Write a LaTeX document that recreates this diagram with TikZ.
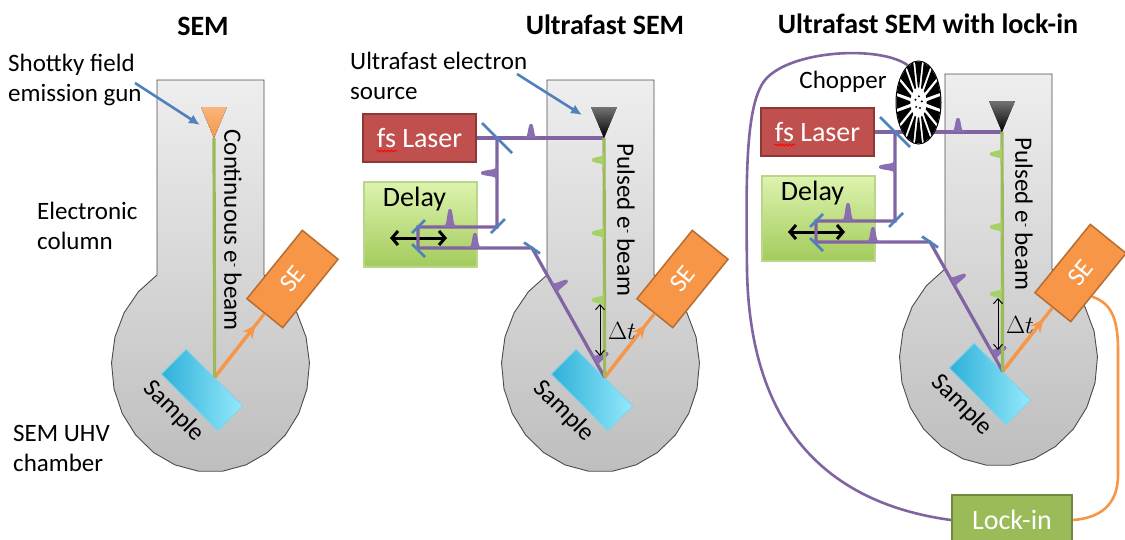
\documentclass[tikz,border=0pt]{standalone}
\usepackage{fontspec}
\setmainfont{Carlito}
\usetikzlibrary{arrows.meta,calc,shapes.geometric,decorations.pathmorphing}

\definecolor{laserpurple}{HTML}{8064A2}
\definecolor{pulsepurple}{HTML}{8A6EAF}
\definecolor{officeblue}{HTML}{4F81BD}
\definecolor{laserred}{HTML}{C0504D}
\definecolor{laserredline}{HTML}{8C3836}
\definecolor{seorange}{HTML}{F79646}
\definecolor{seorangeline}{HTML}{B66D31}
\definecolor{beamgreen}{HTML}{9BBB59}
\definecolor{pulsegreen}{HTML}{A5D168}
\definecolor{lockgreen}{HTML}{9BBB59}
\definecolor{lockgreenline}{HTML}{71893F}
\definecolor{chambertop}{HTML}{EEEEEE}
\definecolor{chamberbot}{HTML}{BEBEBE}
\definecolor{delaytop}{HTML}{DDF3AE}
\definecolor{delaybot}{HTML}{A3CB5C}
\definecolor{delayline}{HTML}{B9D68A}
\definecolor{sampledark}{HTML}{2DB0D8}
\definecolor{samplelight}{HTML}{95E9FC}
\definecolor{sampleline}{HTML}{7FD3EA}

\newcommand\eminus{e\raisebox{0.55ex}{\fontsize{13}{13}\selectfont -}}

\tikzset{
  lbl/.style={font=\fontsize{25}{30}\selectfont, align=left, anchor=west, inner sep=0pt},
  ttl/.style={font=\bfseries\fontsize{28}{34}\selectfont, inner sep=0pt},
  beamtext/.style={font=\fontsize{25}{30}\selectfont, rotate=-90, inner sep=0pt},
  sampletext/.style={font=\fontsize{25}{30}\selectfont, rotate=-45, inner sep=0pt},
  boxtext/.style={font=\fontsize{28}{34}\selectfont, inner sep=0pt},
  chamberfill/.style={draw=black!70, line width=0.9pt, top color=chambertop, bottom color=chamberbot},
  pointer/.style={draw=officeblue, line width=2.6pt, -{Latex[length=11pt,width=10pt]}},
  laser/.style={draw=laserpurple, line width=3.2pt},
  mirror/.style={draw=officeblue, line width=2.8pt},
  ebeam/.style={draw=beamgreen, line width=3.2pt},
  searrow/.style={draw=seorange, line width=3.2pt},
  sebox/.style={fill=seorange, draw=seorangeline, line width=1.5pt, minimum width=88pt,
    minimum height=46pt, rotate=51, text=white, font=\fontsize{26}{30}\selectfont, inner sep=0pt},
  samplebox/.style={left color=sampledark, right color=samplelight, draw=sampleline,
    line width=0.8pt, minimum width=80pt, minimum height=35pt, rotate=-45, inner sep=0pt},
  laserbox/.style={fill=laserred, draw=laserredline, line width=1.5pt, minimum width=113pt,
    minimum height=48pt, text=white, boxtext},
  delaybox/.style={top color=delaytop, bottom color=delaybot, draw=delayline, line width=1.2pt,
    minimum width=113pt, minimum height=85pt},
  lockbox/.style={fill=lockgreen, draw=lockgreenline, line width=2pt, minimum width=120pt,
    minimum height=50pt, text=white, boxtext},
  slide/.style={draw=black, line width=3pt,
    {Straight Barb[length=6pt,width=14pt]}-{Straight Barb[length=6pt,width=14pt]}},
  dtarrow/.style={draw=black, line width=1pt,
    {Straight Barb[length=5pt,width=9pt]}-{Straight Barb[length=5pt,width=9pt]}},
  squiggle/.style={draw=red, line width=0.8pt, decorate,
    decoration={snake, amplitude=1pt, segment length=3.5pt}},
  wire/.style={line width=2.6pt},
  % a light pulse: rounded finger with a soft flared base
  pics/pulse/.style 2 args={code={%
    \fill[#1] plot[domain=-12:12, samples=61, smooth]
      (\x, {-(#2)*(0.75*exp(-((\x*\x/10)*(\x*\x/10))) + 0.25*exp(-(\x*\x)/30))}) -- cycle;
  }},
}

% vacuum column with its round chamber, in column-local coordinates
\newcommand\semchamber{%
  \path[chamberfill] (0,0) -- (107,0)
    -- plot[domain=-57.3:237.3, samples=22] ({53.5+99*cos(\x)},{285+107*sin(\x)}) -- cycle;}

% sample, SE detector and the secondary-electron arrow
\newcommand\samplestage[1]{%
  \node[samplebox] (#1smp) at (45,310) {};
  \node[sampletext] at (17,331) {Sample};
  \node[sebox] (#1se) at (135.5,199) {SE};
  \coordinate (#1s) at (#1smp.north);
  \draw[searrow] (#1s) -- (#1se.west);
  \draw[searrow, -{Stealth[length=13pt,width=12pt]}] (#1s) -- ($(#1s)!0.82!(#1se.west)$);
}

% pump-probe set-up: laser, delay line, pulsed column
\newcommand\ufpanel[2]{%
  \semchamber
  \samplestage{#1}
  \node[laserbox] (#1las) at (-127.5,58) {fs Laser};
  \draw[squiggle] ($(#1las.center)+(-43,13)$) -- ($(#1las.center)+(-22,13)$);
  \node[delaybox] (#1dly) at (-126.5,144.5) {};
  \node[boxtext] at ($(#1dly.north)+(-6,18)$) {Delay};
  \draw[slide] ($(#1dly.center)+(-30.5,13.5)$) -- ($(#1dly.center)+(26.5,13.5)$);
  \coordinate (#1tip) at (57,58);
  \coordinate (#1bs) at (-50,58);
  \coordinate (#1m1) at (-50,147);
  \coordinate (#1r1) at (-129,147);
  \coordinate (#1r2) at (-129,168);
  \coordinate (#1t2) at (-15,168);
  \draw[laser] (#1las.east) -- (#1tip);
  \draw[laser] (#1bs) -- (#1m1) -- (#1r1) -- (#1r2) -- (#1t2) -- (#1s);
  \draw[mirror] ($(#1bs)+(-15,-15)$) -- ($(#1bs)+(15,15)$);
  \draw[mirror] ($(#1m1)+(8,-8)$) -- ($(#1m1)+(-6,6)$);
  \draw[mirror] ($(#1r1)+(7,-7)$) -- ($(#1r1)+(-6,6)$);
  \draw[mirror] ($(#1r2)+(-6,-4)$) -- ($(#1r2)+(7,9)$);
  \draw[mirror] ($(#1t2)+(-8,-5.5)$) -- ($(#1t2)+(8,5.5)$);
  \pic at (#2,58) {pulse={pulsepurple}{14}};
  \pic[rotate=90] at (-50,93) {pulse={pulsepurple}{16}};
  \pic at (-97,147) {pulse={pulsepurple}{18}};
  \pic at (-72,168) {pulse={pulsepurple}{15}};
  \pic[rotate=-60] at ($(#1t2)!0.31!(#1s)$) {pulse={pulsepurple}{15}};
  \pic[rotate=-60] at ($(#1t2)!0.87!(#1s)$) {pulse={pulsepurple}{15}};
  \draw[ebeam] (#1tip) -- (#1s);
  \pic[rotate=90] at (57,80) {pulse={pulsegreen}{12}};
  \pic[rotate=90] at (57,153) {pulse={pulsegreen}{12}};
  \pic[rotate=90] at (57,220) {pulse={pulsegreen}{12}};
  \fill[top color=black!55, bottom color=black] (44,27) -- (70,27) -- (#1tip) -- cycle;
  \coordinate (#1dta) at (53,224);
  \coordinate (#1dtb) at (53,276);
  \draw[dtarrow] (#1dta) -- (#1dtb);
  \node[font=\fontsize{27}{30}\selectfont, inner sep=0pt] at (75,251) {$\Delta t$};
  \node[beamtext] at (79,140) {Pulsed \eminus{} beam};
}

\begin{document}
\begin{tikzpicture}[x=1pt, y=-1pt]
\useasboundingbox (0,0) rectangle (1125,539);
\clip (0,0) rectangle (1125,539);
\fill[white] (0,0) rectangle (1125,539);

% ---------- conventional SEM ----------
\begin{scope}[shift={(157,80)}]
  \semchamber
  \samplestage{a}
  \coordinate (atip) at (57,58);
  \draw[ebeam] (atip) -- (as);
  \fill[top color=seorange!70, bottom color=seorange] (44,27) -- (70,27) -- (atip) -- cycle;
  \node[beamtext] at (76,150) {Continuous \eminus{} beam};
  \node[ttl] at (46,-54) {SEM};
  \node[lbl] (agunlbl) at (-149,0) {Shottky field\\emission gun};
  \coordinate (agunarr) at (43,45);
  \draw[pointer] (-22,3) -- (agunarr);
  \node[lbl] at (-120,146) {Electronic\\column};
  \node[lbl] at (-144,368) {SEM UHV\\chamber};
\end{scope}

% ---------- ultrafast SEM ----------
\begin{scope}[shift={(547,80)}]
  \ufpanel{b}{-16}
  \node[ttl] at (58,-55) {Ultrafast SEM};
  \node[lbl] (bsrclbl) at (-197,-4) {Ultrafast electron\\source};
  \coordinate (bsrcarr) at (35,35);
  \draw[pointer] (-30,-6) -- (bsrcarr);
\end{scope}

% ---------- ultrafast SEM with lock-in detection ----------
\begin{scope}[shift={(945,74)}]
  \ufpanel{c}{13}
  \node[draw=black, line width=1pt, fill=white, ellipse, minimum width=45pt,
        minimum height=83pt, inner sep=0pt] (cchop) at (-26.5,28.5) {};
  \begin{scope}[shift={(-26.5,28.5)}, x=22.5pt, y=41.5pt]
    \foreach \a in {0,22.5,...,337.5}
      \fill[black] (\a-4.5:0.36) -- (\a-9:0.99) -- (\a+9:0.99) -- (\a+4.5:0.36) -- cycle;
    \foreach \a in {10,82,154,226,298}
      \fill[black] (\a:0.15) circle[radius=1.1pt];
  \end{scope}
  \node[lbl, anchor=center] at (-102,8) {Chopper};
  \node[ttl] at (-17,-50) {Ultrafast SEM with lock-in};
\end{scope}

\node[lockbox] (lock) at (1012,520) {Lock-in};
\draw[wire, draw=laserpurple] (cchop.106) .. controls (880,45) and (790,50) .. (765,80)
  .. controls (745,105) and (746,180) .. (747,270)
  .. controls (750,440) and (840,505) .. (lock.west);
\draw[wire, draw=seorange] ($(cse.south)!0.25!(cse.south west)$)
  .. controls (1112,303) and (1118,320) .. (1118,350) -- (1118,475)
  .. controls (1118,505) and (1100,518) .. (lock.east);
\end{tikzpicture}
\end{document}
